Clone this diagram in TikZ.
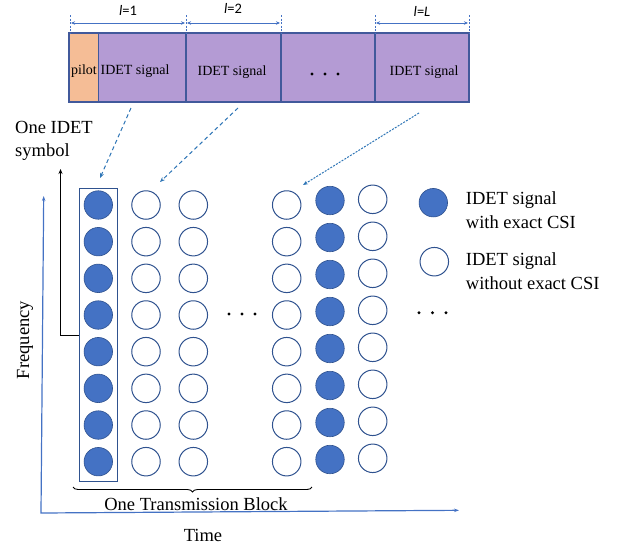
\documentclass[tikz,border=0pt]{standalone}
\usepackage{fontspec}
\setmainfont{Liberation Serif}
\newfontfamily\calibrifont{Carlito}
\usetikzlibrary{arrows.meta,decorations.pathreplacing}
\definecolor{dotblue}{HTML}{4472C4}
\definecolor{dotedge}{HTML}{2F528F}
\definecolor{barpurple}{HTML}{B49BD4}
\definecolor{barpilot}{HTML}{F5BD96}
\definecolor{baredge}{HTML}{41599B}
\definecolor{axisblue}{HTML}{4472C4}
\definecolor{dashblue}{HTML}{2E75B6}
\begin{document}
\begin{tikzpicture}[x=1pt,y=-1pt,
 filleddot/.style={circle,fill=dotblue,draw=dotedge,line width=0.6pt,minimum size=28.5pt,inner sep=0pt},
 emptydot/.style={circle,fill=white,draw=dotedge,line width=1pt,minimum size=28.5pt,inner sep=0pt},
 barseg/.style={rectangle,draw=baredge,line width=1.4pt,fill=barpurple,minimum height=69pt,inner sep=0pt},
 bartext/.style={font=\fontsize{14}{16}\selectfont,inner sep=0pt},
 bigtext/.style={font=\fontsize{18.5}{23.5}\selectfont,inner sep=0pt},
 dimlabel/.style={font=\calibrifont\fontsize{14.5}{16}\selectfont,inner sep=0pt},
 dimarrow/.style={draw=axisblue,line width=0.8pt,{Stealth[length=4pt,width=3.5pt]}-{Stealth[length=4pt,width=3.5pt]}},
 dimtick/.style={draw=axisblue,line width=0.8pt,dash pattern=on 2pt off 1.5pt},
 ptr/.style={draw=dashblue,line width=1pt,-{Stealth[length=5pt,width=4pt]}},
 ellipdot/.style={circle,fill=black,inner sep=0pt,minimum size=3.2pt}
]
\useasboundingbox (0,0) rectangle (621,549);

% ---- top frame bar ----
\node[barseg,fill=barpilot,minimum width=29.5pt] (pilot) at (83.75,67.5) {};
\node[barseg,minimum width=87.5pt] (s1) at (142.25,67.5) {};
\node[barseg,minimum width=95pt] (s2) at (233.5,67.5) {};
\node[barseg,minimum width=94pt] (s3) at (328,67.5) {};
\node[barseg,minimum width=94pt] (s4) at (422,67.5) {};
\node[bartext] (pilottxt) at (84,71) {pilot};
\node[bartext] (s1txt) at (135,71) {IDET signal};
\node[bartext] (s2txt) at (232,72) {IDET signal};
\node[bartext] (s4txt) at (424,72) {IDET signal};
\node[ellipdot] (bd1) at (312,74) {};
\node[ellipdot] (bd2) at (325,74) {};
\node[ellipdot] (bd3) at (338,74) {};

% ---- dimension marks ----
\coordinate (t0a) at (70,15); \coordinate (t0b) at (70,33);
\coordinate (t1a) at (186,15); \coordinate (t1b) at (186,33);
\coordinate (t2a) at (281,15); \coordinate (t2b) at (281,33);
\coordinate (t3a) at (375,15); \coordinate (t3b) at (375,33);
\coordinate (t4a) at (469,15); \coordinate (t4b) at (469,33);
\foreach \i in {0,...,4} \draw[dimtick] (t\i a) -- (t\i b);
\coordinate (d1a) at (71,23); \coordinate (d1b) at (185,23);
\coordinate (d2a) at (187,23); \coordinate (d2b) at (280,23);
\coordinate (d3a) at (376,23); \coordinate (d3b) at (468,23);
\draw[dimarrow] (d1a) -- (d1b);
\draw[dimarrow] (d2a) -- (d2b);
\draw[dimarrow] (d3a) -- (d3b);
\node[dimlabel] (l1) at (128,10) {\textit{l}=1};
\node[dimlabel] (l2) at (233,8) {\textit{l}=2};
\node[dimlabel] (lL) at (422,11) {\textit{l}=\textit{L}};

% ---- grid of signals ----
\foreach \r in {0,...,7} {
  \node[filleddot] (c1-\r) at (98.3,{205+36.67*\r}) {};
  \node[emptydot] (c2-\r) at (146,{205+36.67*\r}) {};
  \node[emptydot] (c3-\r) at (193.3,{205+36.67*\r}) {};
  \node[emptydot] (c4-\r) at (286.7,{205+36.67*\r}) {};
  \node[filleddot] (c5-\r) at (330,{200.5+37*\r}) {};
  \node[emptydot] (c6-\r) at (372.7,{199.3+37*\r}) {};
}
\node[ellipdot] (md1) at (229,314) {};
\node[ellipdot] (md2) at (242,314) {};
\node[ellipdot] (md3) at (255,314) {};

% ---- one IDET symbol box ----
\node[draw=dotedge,line width=1pt,minimum width=38.4pt,minimum height=293.4pt,inner sep=0pt] (sym) at (98.5,335) {};
\coordinate (symtip) at (60.5,169);
\draw[line width=1pt,-{Stealth[length=5pt,width=4pt]}] (sym.west) -| (symtip);
\node[bigtext,anchor=west,align=left] (symlabel) at (15,141) {One IDET\\symbol};

% ---- pointers from frame to columns ----
\coordinate (p1s) at (131,108); \coordinate (p1e) at (100,178);
\coordinate (p2s) at (238,108); \coordinate (p2e) at (160,182);
\coordinate (p3s) at (419,113); \coordinate (p3e) at (303,185);
\draw[ptr,dash pattern=on 4pt off 3pt] (p1s) -- (p1e);
\draw[ptr,dash pattern=on 4pt off 3pt] (p2s) -- (p2e);
\draw[ptr,dash pattern=on 2pt off 1.3pt] (p3s) -- (p3e);

% ---- axes ----
\coordinate (orig) at (41,513);
\coordinate (ftip) at (43.7,196);
\coordinate (ttip) at (459,510.3);
\draw[axisblue,line width=1.2pt,{Stealth[length=5pt,width=3.5pt]}-{Stealth[length=5pt,width=3.5pt]}] (ftip) -- (orig) -- (ttip);
\node[bigtext,rotate=90] (freq) at (25,340) {Frequency};
\node[bigtext] (time) at (203,535) {Time};

% ---- transmission block brace ----
\coordinate (brA) at (73,487);
\coordinate (brB) at (312,487);
\draw[line width=0.9pt,decorate,decoration={brace,amplitude=5pt,mirror}] (brA) -- (brB);
\node[bigtext] (blocktxt) at (196,504) {One Transmission Block};

% ---- legend ----
\node[filleddot] (legf) at (433.3,202.7) {};
\node[emptydot] (lege) at (434.3,261.7) {};
\node[bigtext,anchor=west,align=left] (legftxt) at (465.7,210) {IDET signal\\with exact CSI};
\node[bigtext,anchor=west,align=left] (legetxt) at (465.7,271) {IDET signal\\without exact CSI};
\node[ellipdot] (ld1) at (419,312.7) {};
\node[ellipdot] (ld2) at (432.5,312.7) {};
\node[ellipdot] (ld3) at (446,312.7) {};
\end{tikzpicture}
\end{document}
